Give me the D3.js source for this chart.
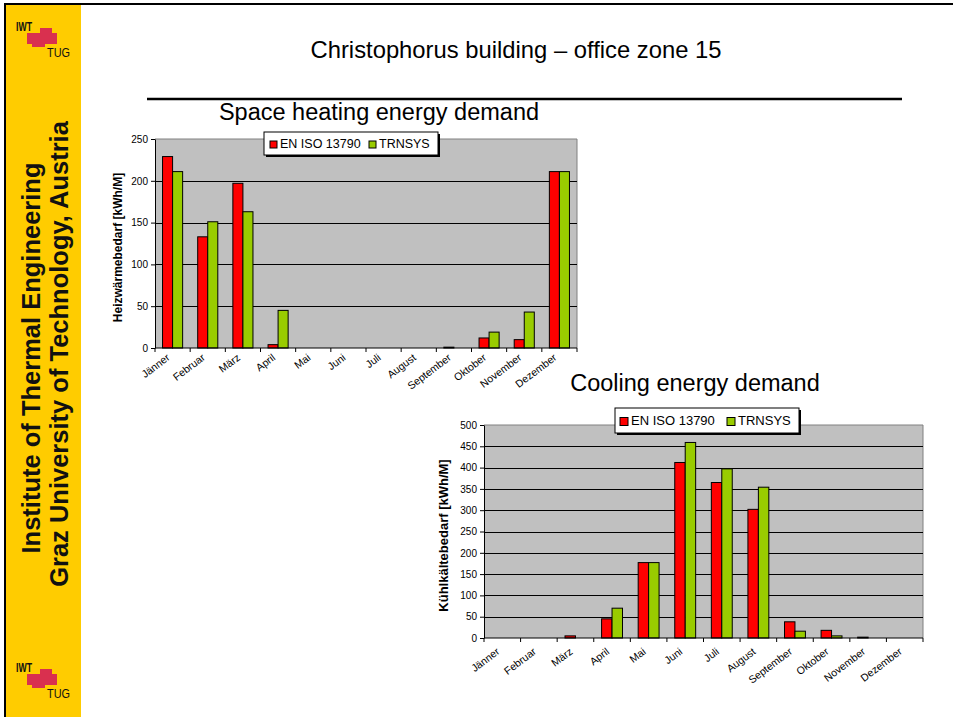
<!DOCTYPE html>
<html>
<head>
<meta charset="utf-8">
<script src="https://cdn.jsdelivr.net/npm/d3@7"></script>
<style>
  html, body { margin: 0; padding: 0; background: #fff; }
  svg { display: block; font-family: "Liberation Sans", Arial, Helvetica, sans-serif; }
</style>
</head>
<body>
<svg id="slide" width="953" height="717"></svg>
<script>
// Monthly demand values, kWh per month
const months = ["Jänner", "Februar", "März", "April", "Mai", "Juni", "Juli", "August", "September", "Oktober", "November", "Dezember"];
const seriesNames = ["EN ISO 13790", "TRNSYS"];
const seriesColors = ["#FF0000", "#99CC00"];

const heatingIso    = [229, 133, 197, 4, 0, 0, 0, 0, 1, 12, 10, 211];
const heatingTrnsys = [211, 151, 163, 45, 0, 0, 0, 0, 0, 19, 43, 211];

const coolingIso    = [0, 0, 5, 45, 177, 412, 365, 302, 38, 18, 2, 0];
const coolingTrnsys = [0, 0, 0, 70, 177, 459, 397, 354, 16, 5, 0, 0];

const heatingTicks = [0, 50, 100, 150, 200, 250];
const coolingTicks = [0, 50, 100, 150, 200, 250, 300, 350, 400, 450, 500];

const svg = d3.select("#slide");

// ---------- slide frame and institute sidebar ----------
svg.append("rect").attr("x", 6).attr("y", 5).attr("width", 75).attr("height", 712).attr("fill", "#FFCC00");
svg.append("line").attr("x1", 4).attr("x2", 953).attr("y1", 4).attr("y2", 4).attr("stroke", "#000").attr("stroke-width", 2);
svg.append("line").attr("x1", 5).attr("x2", 5).attr("y1", 4).attr("y2", 717).attr("stroke", "#000").attr("stroke-width", 2);

function logo(oy) {
  const g = svg.append("g").attr("transform", `translate(0,${oy})`);
  g.append("text").attr("x", 16).attr("y", 31).attr("font-size", 13).attr("font-weight", "bold")
    .attr("textLength", 16).attr("lengthAdjust", "spacingAndGlyphs").attr("fill", "#111").text("IWT");
  g.append("path").attr("d", "M40,28 H52 V33 H57 V44 H45 V47 H32 V44 H27 V33 H40 Z").attr("fill", "#D9304F");
  g.append("text").attr("x", 47).attr("y", 57).attr("font-size", 12.5)
    .attr("textLength", 23).attr("lengthAdjust", "spacingAndGlyphs").attr("fill", "#111").text("TUG");
}
logo(0);
logo(641);

svg.append("text").attr("transform", "translate(40,358) rotate(-90)").attr("text-anchor", "middle")
  .attr("font-size", 25.5).attr("font-weight", "bold").attr("fill", "#111").text("Institute of Thermal Engineering");
svg.append("text").attr("transform", "translate(68,354) rotate(-90)").attr("text-anchor", "middle")
  .attr("font-size", 25.5).attr("font-weight", "bold").attr("fill", "#111").text("Graz University of Technology, Austria");

// ---------- slide heading ----------
svg.append("text").attr("x", 516).attr("y", 58).attr("text-anchor", "middle").attr("font-size", 23.8)
  .attr("fill", "#000").text("Christophorus building – office zone 15");
svg.append("line").attr("x1", 147).attr("x2", 902).attr("y1", 99).attr("y2", 99).attr("stroke", "#000").attr("stroke-width", 2.5);

// ---------- grouped bar chart ----------
function drawChart(cfg) {
  const g = svg.append("g");
  const x = d3.scaleBand().domain(months).range([cfg.left, cfg.right]).padding(0);
  const inner = d3.scaleBand().domain(seriesNames).range([0, x.bandwidth()]).paddingInner(0).paddingOuter(0.75);
  const y = d3.scaleLinear().domain([0, cfg.max]).range([cfg.bottom, cfg.top]);

  // plot area
  g.append("rect").attr("x", cfg.left).attr("y", cfg.top).attr("width", cfg.right - cfg.left)
    .attr("height", cfg.bottom - cfg.top).attr("fill", "#C0C0C0");
  g.append("path").attr("d", `M${cfg.left},${cfg.top} H${cfg.right} V${cfg.bottom}`)
    .attr("fill", "none").attr("stroke", "#808080").attr("stroke-width", 1);

  // gridlines
  g.selectAll(".grid").data(cfg.ticks.filter(t => t > 0 && t < cfg.max)).join("line")
    .attr("x1", cfg.left).attr("x2", cfg.right)
    .attr("y1", d => Math.round(y(d)) + 0.5).attr("y2", d => Math.round(y(d)) + 0.5)
    .attr("stroke", "#000").attr("stroke-width", 1);

  // bars
  const series = [cfg.iso, cfg.trnsys];
  series.forEach((vals, si) => {
    g.selectAll(".bar" + si).data(months.map((m, i) => ({ m, v: vals[i] })).filter(d => d.v > 0)).join("rect")
      .attr("x", d => x(d.m) + inner(seriesNames[si]))
      .attr("width", inner.bandwidth())
      .attr("y", d => y(d.v))
      .attr("height", d => y(0) - y(d.v))
      .attr("fill", seriesColors[si])
      .attr("stroke", "#000").attr("stroke-width", 1);
  });

  // y axis
  const yAxis = d3.axisLeft(y).tickValues(cfg.ticks).tickSize(4).tickSizeOuter(0).tickPadding(3);
  const ya = g.append("g").attr("transform", `translate(${cfg.left},0)`).call(yAxis);
  ya.select(".domain").attr("stroke", "#000");
  ya.selectAll(".tick line").attr("stroke", "#000");
  ya.selectAll(".tick text").attr("font-size", 10).attr("fill", "#000")
    .attr("font-family", "'Liberation Sans', Arial, sans-serif");

  // x axis with ticks on category boundaries
  const bounds = months.map(m => x(m)).concat([cfg.right]);
  g.append("line").attr("x1", cfg.left).attr("x2", cfg.right).attr("y1", cfg.bottom).attr("y2", cfg.bottom)
    .attr("stroke", "#000").attr("stroke-width", 1);
  g.selectAll(".xtick").data(bounds).join("line")
    .attr("x1", d => d).attr("x2", d => d).attr("y1", cfg.bottom).attr("y2", cfg.bottom + 4)
    .attr("stroke", "#000");
  g.selectAll(".xlabel").data(months).join("text")
    .attr("transform", d => `translate(${x(d) + x.bandwidth() / 2 - 2},${cfg.bottom + cfg.labelDy}) rotate(-37)`)
    .attr("text-anchor", "end").attr("font-size", 10.5).attr("fill", "#000").text(d => d);

  // y axis title
  g.append("text").attr("transform", `translate(${cfg.yLabelX},${(cfg.top + cfg.bottom) / 2 + 4}) rotate(-90)`)
    .attr("text-anchor", "middle").attr("font-size", cfg.yLabelSize).attr("font-weight", "bold").attr("fill", "#000")
    .text(cfg.yLabel);

  // chart title
  g.append("text").attr("x", cfg.titleX).attr("y", cfg.titleY).attr("text-anchor", "middle")
    .attr("font-size", 23.5).attr("fill", "#000").text(cfg.title);

  // legend
  const L = cfg.legend;
  g.append("rect").attr("x", L.x + 2).attr("y", L.y + 2).attr("width", L.w).attr("height", L.h).attr("fill", "#000");
  g.append("rect").attr("x", L.x).attr("y", L.y).attr("width", L.w).attr("height", L.h)
    .attr("fill", "#fff").attr("stroke", "#000").attr("stroke-width", 1);
  seriesNames.forEach((name, i) => {
    g.append("rect").attr("x", L.items[i]).attr("y", L.y + L.h / 2 - L.sw / 2 + 1).attr("width", L.sw).attr("height", L.sw)
      .attr("fill", seriesColors[i]).attr("stroke", "#000").attr("stroke-width", 1);
    g.append("text").attr("x", L.items[i] + L.sw + 3).attr("y", L.y + L.h / 2 + L.fs * 0.36)
      .attr("font-size", L.fs).attr("fill", "#000").text(name);
  });
}

drawChart({
  left: 155, right: 577, top: 139, bottom: 348, max: 250, ticks: heatingTicks,
  iso: heatingIso, trnsys: heatingTrnsys,
  title: "Space heating energy demand", titleX: 379, titleY: 120,
  yLabel: "Heizwärmebedarf [kWh/M]", yLabelX: 122, yLabelSize: 12,
  labelDy: 11,
  legend: { x: 264, y: 132, w: 174, h: 23, items: [270, 369], sw: 7, fs: 12.5 }
});

drawChart({
  left: 484, right: 923, top: 425, bottom: 638, max: 500, ticks: coolingTicks,
  iso: coolingIso, trnsys: coolingTrnsys,
  title: "Cooling energy demand", titleX: 695, titleY: 391,
  yLabel: "Kühlkältebedarf [kWh/M]", yLabelX: 448, yLabelSize: 13,
  labelDy: 15,
  legend: { x: 615, y: 408, w: 184, h: 25, items: [620, 727], sw: 8, fs: 13 }
});
</script>
</body>
</html>
